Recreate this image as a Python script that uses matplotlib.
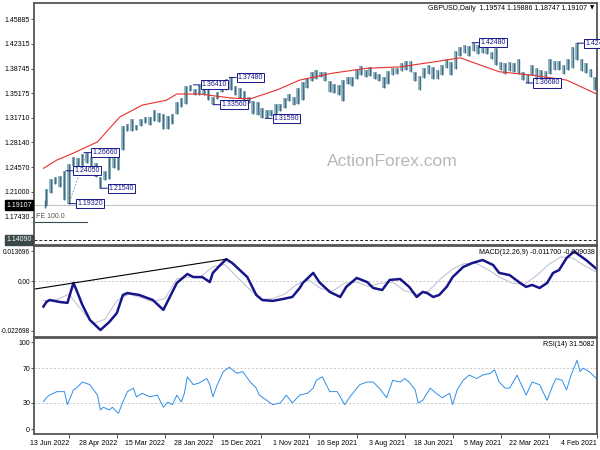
import numpy as np
import matplotlib.pyplot as plt

plt.rcParams['font.family'] = ['Liberation Sans', 'DejaVu Sans']

# bar index 0 = 4 Feb 2021, one step = one daily bar, time runs right to left
bar_idx = np.arange(0, 369, 3)
bar_low = [1.357, 1.375, 1.381, 1.384, 1.400, 1.389, 1.385, 1.380, 1.386, 1.385,
           1.380, 1.367, 1.372, 1.374, 1.378, 1.367, 1.371, 1.380, 1.383, 1.384,
           1.380, 1.386, 1.393, 1.401, 1.408, 1.410, 1.409, 1.413, 1.405, 1.410,
           1.406, 1.387, 1.379, 1.388, 1.378, 1.373, 1.373, 1.380, 1.374, 1.357,
           1.370, 1.383, 1.385, 1.384, 1.380, 1.378, 1.365, 1.360, 1.369, 1.372,
           1.377, 1.375, 1.379, 1.373, 1.362, 1.365, 1.341, 1.350, 1.353, 1.354,
           1.369, 1.375, 1.372, 1.370, 1.360, 1.342, 1.336, 1.335, 1.341, 1.331,
           1.326, 1.319, 1.319, 1.316, 1.317, 1.321, 1.322, 1.338, 1.342, 1.345,
           1.350, 1.357, 1.357, 1.354, 1.344, 1.336, 1.343, 1.349, 1.350, 1.350,
           1.356, 1.336, 1.332, 1.322, 1.308, 1.300, 1.300, 1.311, 1.312, 1.307,
           1.309, 1.305, 1.299, 1.298, 1.298, 1.270, 1.241, 1.245, 1.228, 1.227,
           1.216, 1.232, 1.246, 1.251, 1.245, 1.245, 1.248, 1.193, 1.199, 1.217,
           1.221, 1.209, 1.190]
bar_high = [1.376, 1.387, 1.395, 1.401, 1.424, 1.418, 1.401, 1.392, 1.399, 1.398,
            1.401, 1.384, 1.385, 1.388, 1.392, 1.380, 1.383, 1.401, 1.396, 1.397,
            1.395, 1.397, 1.417, 1.412, 1.423, 1.422, 1.422, 1.425, 1.420, 1.421,
            1.419, 1.413, 1.397, 1.401, 1.393, 1.385, 1.390, 1.392, 1.389, 1.377,
            1.383, 1.398, 1.398, 1.396, 1.389, 1.389, 1.384, 1.376, 1.380, 1.383,
            1.390, 1.386, 1.391, 1.387, 1.375, 1.376, 1.371, 1.364, 1.365, 1.370,
            1.383, 1.383, 1.385, 1.383, 1.374, 1.368, 1.359, 1.346, 1.351, 1.345,
            1.337, 1.336, 1.328, 1.328, 1.331, 1.339, 1.341, 1.346, 1.355, 1.360,
            1.362, 1.375, 1.372, 1.366, 1.354, 1.346, 1.364, 1.358, 1.364, 1.358,
            1.364, 1.362, 1.345, 1.340, 1.322, 1.319, 1.322, 1.323, 1.328, 1.318,
            1.318, 1.315, 1.306, 1.315, 1.308, 1.305, 1.272, 1.259, 1.264, 1.240,
            1.232, 1.252, 1.261, 1.266, 1.264, 1.259, 1.260, 1.250, 1.240, 1.233,
            1.232, 1.229, 1.214]
last_idx = 368
last_open, last_high, last_low, last_close = 1.19574, 1.19886, 1.18747, 1.19107

ma_idx = [0, 20, 43, 65, 91, 109, 131, 153, 176, 198, 213, 231, 243, 265, 280,
          287, 303, 318, 333, 349, 360, 369]
ma_vals = [1.351, 1.371, 1.378, 1.383, 1.403, 1.397, 1.390, 1.388, 1.381, 1.371,
           1.357, 1.344, 1.345, 1.351, 1.351, 1.342, 1.335, 1.318, 1.282, 1.266,
           1.256, 1.244]

label_texts = ["1.42400", "1.42480", "1.36680", "1.37480", "1.36410", "1.33560",
               "1.31590", "1.26660", "1.24050", "1.21540", "1.19320"]
label_idx = [13, 83, 47, 245, 269, 256, 221, 342, 354, 331, 352]
label_price = [1.4241, 1.4248, 1.3668, 1.3748, 1.3641, 1.3356, 1.3159, 1.2666,
               1.2405, 1.2154, 1.1932]

price_ticks = [1.45885, 1.42315, 1.38745, 1.35175, 1.31710, 1.28140, 1.24570,
               1.21000, 1.17430]
support_level = 1.14090
fe_level = 1.1673
fe_start = 340
fe_leg_idx = [340, 352]
fe_leg_vals = [1.2666, 1.1934]

macd_idx = [0, 7, 15, 20, 25, 29, 33, 38, 43, 47, 51, 58, 65, 69, 76, 83, 89, 96,
            100, 105, 109, 113, 116, 120, 125, 131, 138, 143, 149, 153, 160, 167,
            171, 178, 185, 189, 196, 198, 203, 209, 216, 223, 227, 233, 238, 243,
            247, 251, 256, 258, 263, 269, 273, 280, 289, 296, 305, 313, 316, 320,
            325, 331, 338, 343, 347, 349, 353, 358, 365, 367, 369]
macd_vals = [0.0055, 0.0096, 0.0135, 0.0105, 0.0050, 0.0037, -0.0009, -0.0032,
             -0.0018, -0.0027, -0.0009, 0.0027, 0.0037, 0.0073, 0.0096, 0.0082,
             0.0064, 0.0018, -0.0027, -0.0064, -0.0073, -0.0055, -0.0050, -0.0073,
             -0.0027, 0.0009, 0.0005, -0.0041, -0.0032, -0.0005, 0.0014, -0.0027,
             -0.0073, -0.0050, -0.0005, 0.0037, -0.0009, -0.0032, -0.0073, -0.0082,
             -0.0091, -0.0087, -0.0064, 0.0018, 0.0050, 0.0082, 0.0100, 0.0073,
             0.0037, -0.0005, 0.0018, 0.0018, 0.0032, -0.0009, -0.0132, -0.0087,
             -0.0064, -0.0055, -0.0064, -0.0146, -0.0187, -0.0224, -0.0178, -0.0110,
             -0.0041, -0.0009, -0.0100, -0.0096, -0.0087, -0.0096, -0.0117]
signal_idx = [0, 8, 16, 24, 32, 40, 48, 56, 64, 72, 80, 88, 96, 104, 112, 120, 128,
              136, 144, 152, 160, 168, 176, 184, 192, 200, 208, 216, 224, 232, 240,
              248, 256, 264, 272, 280, 288, 296, 304, 312, 320, 328, 336, 344, 352,
              360, 369]
signal_vals = [0.0040, 0.0070, 0.0105, 0.0110, 0.0075, 0.0025, -0.0015, -0.0010,
               0.0015, 0.0050, 0.0080, 0.0080, 0.0055, 0.0010, -0.0045, -0.0060,
               -0.0045, -0.0005, -0.0010, -0.0025, -0.0005, -0.0010, -0.0045,
               -0.0035, 0.0005, -0.0015, -0.0060, -0.0080, -0.0085, -0.0035, 0.0020,
               0.0075, 0.0065, 0.0020, 0.0018, 0.0010, -0.0080, -0.0095, -0.0075,
               -0.0060, -0.0090, -0.0175, -0.0195, -0.0130, -0.0060, -0.0085, -0.0090]
macd_trend_idx = [375, 247]
macd_trend_vals = [-0.0037, 0.0100]
macd_ticks = [0.013696, 0.0, -0.022698]
macd_tick_labels = ["0.013696", "0.00", "-0.022698"]

rsi_idx = [0, 5, 9, 11, 13, 17, 20, 23, 27, 29, 33, 38, 43, 47, 51, 53, 58, 61, 65,
           68, 71, 76, 80, 85, 89, 93, 96, 98, 103, 107, 111, 116, 119, 121, 125,
           128, 131, 136, 140, 145, 149, 153, 158, 165, 168, 173, 178, 183, 187,
           189, 193, 198, 203, 207, 211, 216, 220, 225, 227, 231, 236, 240, 245,
           249, 253, 256, 258, 260, 265, 269, 273, 275, 277, 280, 283, 286, 289,
           293, 298, 303, 307, 309, 313, 316, 319, 323, 325, 329, 331, 333, 338,
           343, 347, 349, 353, 355, 360, 365, 367, 369]
rsi_vals = [58, 66, 70, 66, 79, 62, 45, 56, 58, 51, 33, 51, 54, 39, 54, 62, 47, 47,
            54, 68, 64, 62, 58, 62, 56, 45, 28, 41, 36, 41, 47, 33, 30, 45, 54, 58,
            54, 56, 36, 47, 54, 54, 51, 36, 28, 43, 43, 60, 56, 47, 41, 39, 30, 39,
            30, 28, 33, 39, 47, 54, 66, 64, 71, 66, 51, 37, 51, 58, 53, 51, 60, 41,
            31, 39, 28, 31, 25, 39, 37, 41, 37, 47, 43, 31, 18, 25, 22, 25, 22, 39,
            51, 54, 47, 45, 28, 43, 43, 39, 36, 31.5]
rsi_ticks = [100, 70, 30, 0]

date_idx = np.arange(0, 353, 32)
date_labels = ["4 Feb 2021", "22 Mar 2021", "5 May 2021", "18 Jun 2021",
               "3 Aug 2021", "16 Sep 2021", "1 Nov 2021", "15 Dec 2021",
               "28 Jan 2022", "15 Mar 2022", "28 Apr 2022", "13 Jun 2022"]

bar_color = '#3f6f82'
bar_fill = '#9bb8c4'
navy = '#16168a'
frame = '#555555'

fig = plt.figure(figsize=(6, 4.5), dpi=100)
W, H = 600.0, 450.0
left, width = 34 / W, 563 / W
ax = fig.add_axes([left, 1 - 245 / H, width, 242 / H])
ax2 = fig.add_axes([left, 1 - 337 / H, width, 91 / H])
ax3 = fig.add_axes([left, 1 - 434 / H, width, 96 / H])

for a in (ax, ax2, ax3):
    a.set_xlim(375.3, -0.3)
    for s in a.spines.values():
        s.set_color(frame)
        s.set_linewidth(1.3)
    a.tick_params(axis='y', left=True, right=False, labelsize=5, length=2,
                  width=0.6, pad=0.8, color='#333333')
    a.tick_params(axis='x', bottom=False, labelbottom=False)

# main price panel
ax.set_ylim(1.1337, 1.4819)
lows = np.array(bar_low)
highs = np.array(bar_high)
ax.bar(bar_idx + 1, highs - lows, bottom=lows, width=2.4, color=bar_fill,
       linewidth=0)
ax.vlines(bar_idx + 1, lows, highs, colors=bar_color, lw=1.0)
ax.vlines(last_idx, last_low, last_high, colors=bar_color, lw=1.0)
ax.plot(ma_idx, ma_vals, color='#e8302c', lw=0.8)
ax.axhline(last_close, color='#c4c4c4', lw=0.8, zorder=0)
ax.axhline(support_level, color='#222222', lw=0.7, ls=(0, (3, 2)))
ax.plot([375.3, fe_start], [fe_level, fe_level], color='#3a4a55', lw=0.8)
ax.text(374, fe_level + 0.002, "FE 100.0", fontsize=5, color='#555555',
        ha='left', va='bottom')
ax.plot(fe_leg_idx, fe_leg_vals, color='#888888', lw=0.6, ls=(0, (2, 2)))
ax.set_yticks(price_ticks)
ax.set_yticklabels(["%.5f" % v for v in price_ticks])

for txt, xi, pv in zip(label_texts, label_idx, label_price):
    ann = ax.annotate(txt, xy=(xi, pv), xytext=(6, 0), textcoords='offset points',
                      ha='left', va='center', fontsize=5, color=navy,
                      bbox=dict(boxstyle='square,pad=0.15', fc='white', ec=navy,
                                lw=0.7),
                      arrowprops=dict(arrowstyle='-', color=navy, lw=0.7,
                                      shrinkA=0, shrinkB=0))
    ann.set_clip_on(True)

ytr = ax.get_yaxis_transform()
ax.text(-0.004, last_close, "%.5f" % last_close, transform=ytr, ha='right',
        va='center', fontsize=5, color='white',
        bbox=dict(boxstyle='square,pad=0.2', fc='black', ec='black'))
ax.text(-0.004, support_level, "%.5f" % support_level, transform=ytr, ha='right',
        va='center', fontsize=5, color='white',
        bbox=dict(boxstyle='square,pad=0.2', fc='#3b4848', ec='#3b4848'))

ax.text(0.636, 0.343, "ActionForex.com", transform=ax.transAxes, fontsize=12.5,
        color='#b8b8b8', ha='center', va='center')
ax.text(0.982, 0.979, "GBPUSD,Daily  %.5f %.5f %.5f %.5f"
        % (last_open, last_high, last_low, last_close),
        transform=ax.transAxes, fontsize=5, ha='right', va='center')
ax.text(0.992, 0.979, "\u25bc", transform=ax.transAxes, fontsize=4,
        ha='center', va='center', family=['DejaVu Sans'])

# MACD panel
ax2.set_ylim(-0.0256, 0.0160)
ax2.axhline(0, color='#c8c8c8', lw=0.7, ls=(0, (2, 2)))
ax2.plot(signal_idx, signal_vals, color='#c4c4d8', lw=0.8)
ax2.plot(macd_idx, macd_vals, color=navy, lw=1.8)
ax2.plot(macd_trend_idx, macd_trend_vals, color='black', lw=0.8)
ax2.set_yticks(macd_ticks)
ax2.set_yticklabels(macd_tick_labels)
ax2.tick_params(axis='y', labelsize=4.7)
ax2.text(0.996, 0.934, "MACD(12,26,9) -0.011700 -0.009038",
         transform=ax2.transAxes, fontsize=5, ha='right', va='center')

# RSI panel
ax3.set_ylim(-5.7, 104.6)
ax3.axhline(70, color='#c8c8c8', lw=0.7, ls=(0, (2, 2)))
ax3.axhline(30, color='#c8c8c8', lw=0.7, ls=(0, (2, 2)))
ax3.plot(rsi_idx, rsi_vals, color='#2f8fe8', lw=0.7)
ax3.set_yticks(rsi_ticks)
ax3.set_yticklabels([str(v) for v in rsi_ticks])
ax3.text(0.996, 0.9375, "RSI(14) 31.5082", transform=ax3.transAxes, fontsize=5,
         ha='right', va='center')
ax3.set_xticks(date_idx)
ax3.set_xticklabels(date_labels, ha='right')
ax3.tick_params(axis='x', bottom=True, labelbottom=True, labelsize=5,
                length=3, width=0.6, pad=1.5, color='#333333')

fig.savefig('out.png', dpi=100)
